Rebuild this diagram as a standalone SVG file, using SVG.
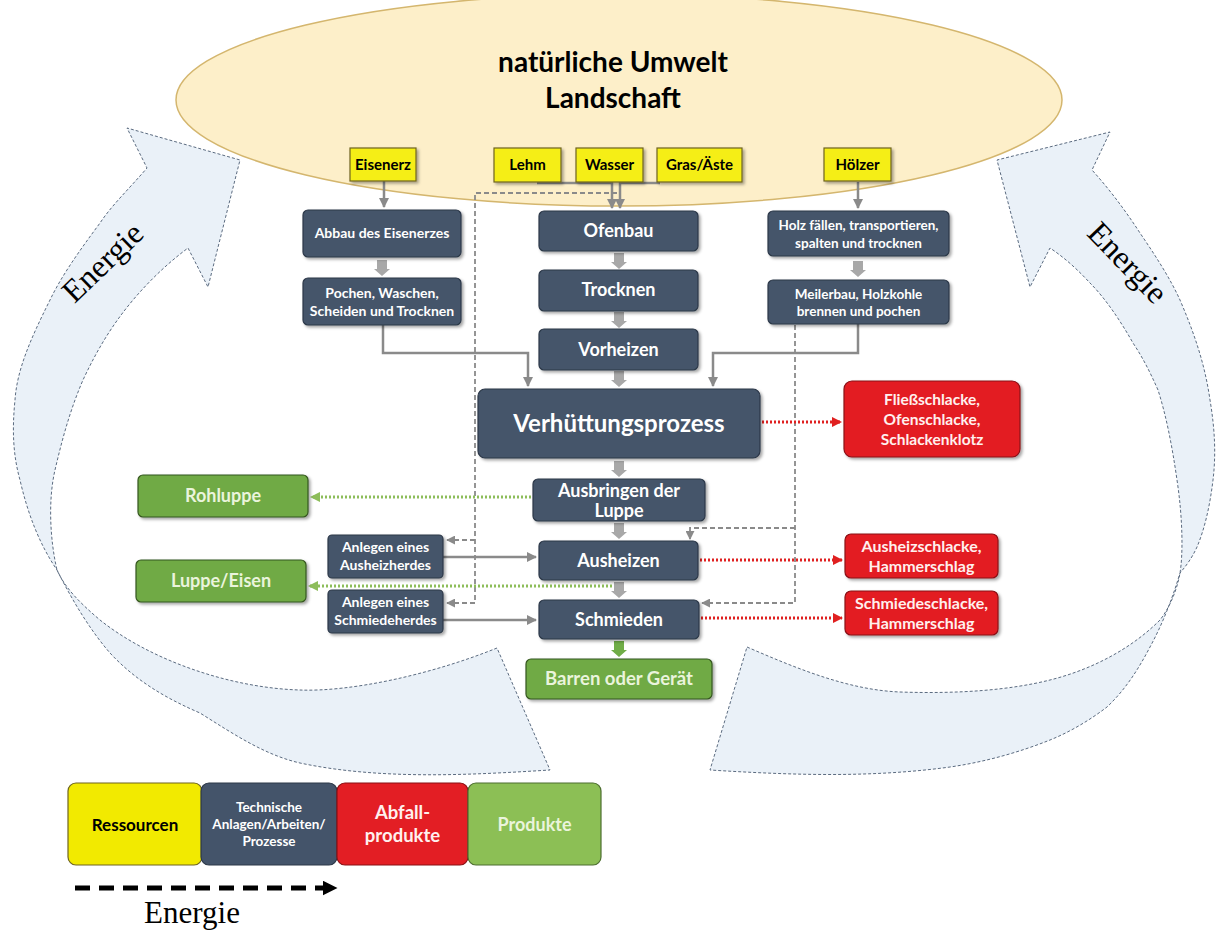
<svg xmlns="http://www.w3.org/2000/svg" width="1220" height="930" viewBox="0 0 1220 930">
<defs>
<style>
.t{font-family:Lato,"Open Sans","Liberation Sans",sans-serif;font-weight:bold;text-anchor:middle}
.w{fill:#ffffff}
.k{fill:#000000}
.pg{fill:#eaf4dc}
.pr{fill:#fff0ee}
.dark{fill:#44546a;stroke:#2c3848;stroke-width:1.2}
.yel{fill:#f5ee12;stroke:#6e6420;stroke-width:1.2}
.red{fill:#e31e24;stroke:#8a1015;stroke-width:1.2}
.grn{fill:#6faa45;stroke:#35561f;stroke-width:1.2}
.en{fill:#eaf1f8;stroke:#5b6b80;stroke-width:1;stroke-dasharray:3 2}
.ensans{font-family:"Liberation Serif","DejaVu Serif",serif;font-size:32px;fill:#000;text-anchor:middle}
.solid{fill:none;stroke:#8a8a8a;stroke-width:2.5}
.dash{fill:none;stroke:#8a8a8a;stroke-width:1.8;stroke-dasharray:5 3}
.rdot{fill:none;stroke:#e02020;stroke-width:3;stroke-dasharray:2 2}
.gdot{fill:none;stroke:#8dbd5a;stroke-width:3;stroke-dasharray:2 2}
.blk{fill:#a8a8a8}
</style>
<filter id="sh" x="-10%" y="-10%" width="130%" height="140%">
<feDropShadow dx="2" dy="2" stdDeviation="1.5" flood-color="#000" flood-opacity="0.35"/>
</filter>
<marker id="ag" viewBox="0 0 10 10" refX="9" refY="5" markerWidth="4" markerHeight="4" orient="auto"><path d="M0,0 L10,5 L0,10 Z" fill="#8a8a8a"/></marker>
<marker id="agd" viewBox="0 0 10 10" refX="9" refY="5" markerWidth="5" markerHeight="5" orient="auto"><path d="M0,0 L10,5 L0,10 Z" fill="#8a8a8a"/></marker>
<marker id="ar" viewBox="0 0 10 10" refX="9" refY="5" markerWidth="3.5" markerHeight="3.5" orient="auto"><path d="M0,0 L10,5 L0,10 Z" fill="#e02020"/></marker>
<marker id="agr" viewBox="0 0 10 10" refX="9" refY="5" markerWidth="3.5" markerHeight="3.5" orient="auto"><path d="M0,0 L10,5 L0,10 Z" fill="#8dbd5a"/></marker>
<marker id="ak" viewBox="0 0 10 10" refX="9" refY="5" markerWidth="3" markerHeight="3" orient="auto"><path d="M0,0 L10,5 L0,10 Z" fill="#000"/></marker>
<path id="ba" d="M-5,0 H5 V9 H8 L0,16 L-8,9 H-5 Z"/>
</defs>
<rect width="1220" height="930" fill="#ffffff"/>

<g id="energie-links">
<path class="en" d="M497,648 C430,675 350,692 300,690 C230,688 150,660 100,620 C80,603 65,588 57,570 C50,540 48,500 55,470 C62,440 70,410 83,380 C97,350 112,325 133,300 C150,280 168,263 188,248 L208,287 L240,160 L127,128 L147,168 C128,190 112,205 100,223 C80,250 62,275 50,300 C30,340 17,370 15,400 C12,430 13,455 20,480 C28,515 40,545 57,570 C72,600 90,630 110,653 C135,680 165,698 200,713 C235,735 265,755 300,763 C380,780 470,775 550,770 Z"/>
<text class="ensans" transform="translate(110,270) rotate(-44)">Energie</text>
</g>
<g id="energie-rechts">
<path class="en" d="M747,647 C800,670 850,690 900,692 C960,694 1010,690 1050,680 C1090,670 1130,650 1160,620 C1170,607 1177,590 1180,573 C1183,555 1183,520 1177,480 C1172,445 1166,415 1158,390 C1150,372 1143,358 1133,343 C1120,320 1105,298 1090,283 C1078,270 1065,258 1050,248 L1030,287 L997,160 L1110,132 L1092,170 C1110,190 1125,210 1140,233 C1155,255 1170,278 1180,300 C1195,335 1205,365 1210,400 C1215,430 1216,455 1213,480 C1210,505 1205,528 1197,547 C1192,558 1186,566 1180,573 C1172,600 1162,625 1150,647 C1138,670 1125,690 1107,707 C1090,720 1070,732 1050,740 C1020,752 985,762 950,767 C870,778 790,775 710,770 Z"/>
<text class="ensans" transform="translate(1120,270) rotate(46)">Energie</text>
</g>

<g id="umwelt">
<ellipse cx="619" cy="100" rx="443" ry="106" fill="#fdefc9" stroke="#d4b66e" stroke-width="1.5"/>
<text class="t k" x="613" y="72" font-size="28">natürliche Umwelt</text>
<text class="t k" x="613" y="108" font-size="28">Landschaft</text>
</g>

<g id="connectors">
<path class="solid" d="M384,181 V207" marker-end="url(#ag)"/>
<path class="solid" d="M858,182 V208" marker-end="url(#ag)"/>
<path class="solid" d="M537,183 H612 V208" marker-end="url(#ag)"/>
<path class="solid" d="M660,183 H620 V208" marker-end="url(#ag)"/>
<path class="solid" d="M383,325 V353 H528 V386" marker-end="url(#ag)"/>
<path class="solid" d="M858,324 V353 H713 V386" marker-end="url(#ag)"/>
<path class="solid" d="M443,557 H536" marker-end="url(#ag)"/>
<path class="solid" d="M443,620 H536" marker-end="url(#ag)"/>
<path class="dash" d="M617,193 H475 V603 H447" marker-end="url(#agd)"/>
<path class="dash" d="M475,540 H447" marker-end="url(#agd)"/>
<path class="dash" d="M795,325 V603 H702" marker-end="url(#agd)"/>
<path class="dash" d="M795,528 H690 V539" marker-end="url(#agd)"/>
<path class="rdot" d="M762,422 H841" marker-end="url(#ar)"/>
<path class="rdot" d="M700,560 H842" marker-end="url(#ar)"/>
<path class="rdot" d="M701,618 H842" marker-end="url(#ar)"/>
<path class="gdot" d="M531,497 H311" marker-end="url(#agr)"/>
<path class="gdot" d="M612,586 H309" marker-end="url(#agr)"/>
<use href="#ba" class="blk" x="619" y="253"/>
<use href="#ba" class="blk" x="619" y="312"/>
<use href="#ba" class="blk" x="619" y="371"/>
<use href="#ba" class="blk" x="619" y="461"/>
<use href="#ba" class="blk" x="619" y="523"/>
<use href="#ba" class="blk" x="619" y="582"/>
<use href="#ba" fill="#70ad47" x="619" y="641"/>
<use href="#ba" class="blk" x="382" y="260"/>
<use href="#ba" class="blk" x="858" y="261"/>
</g>

<g id="eisenerz"><rect class="yel" x="350" y="148" width="66" height="33" filter="url(#sh)"/><text class="t k" x="383" y="170" font-size="15">Eisenerz</text></g>
<g id="lehm"><rect class="yel" x="494" y="148" width="67" height="34" filter="url(#sh)"/><text class="t k" x="527.5" y="170" font-size="15">Lehm</text></g>
<g id="wasser"><rect class="yel" x="576" y="148" width="67" height="34" filter="url(#sh)"/><text class="t k" x="609.5" y="170" font-size="15">Wasser</text></g>
<g id="gras"><rect class="yel" x="657" y="148" width="85" height="34" filter="url(#sh)"/><text class="t k" x="699.5" y="170" font-size="15">Gras/Äste</text></g>
<g id="hoelzer"><rect class="yel" x="824" y="148" width="67" height="33" filter="url(#sh)"/><text class="t k" x="857.5" y="170" font-size="15">Hölzer</text></g>

<g id="abbau"><rect class="dark" x="303" y="210" width="158" height="47" rx="5" filter="url(#sh)"/><text class="t w" x="382" y="238" font-size="14">Abbau des Eisenerzes</text></g>
<g id="pochen"><rect class="dark" x="303" y="278" width="158" height="47" rx="5" filter="url(#sh)"/><text class="t w" x="382" y="298" font-size="14">Pochen, Waschen,</text><text class="t w" x="382" y="316" font-size="14">Scheiden und Trocknen</text></g>
<g id="ofenbau"><rect class="dark" x="539" y="211" width="159" height="40" rx="5" filter="url(#sh)"/><text class="t w" x="618.5" y="237" font-size="18">Ofenbau</text></g>
<g id="trocknen"><rect class="dark" x="539" y="270" width="159" height="41" rx="5" filter="url(#sh)"/><text class="t w" x="618.5" y="296" font-size="18">Trocknen</text></g>
<g id="vorheizen"><rect class="dark" x="539" y="329" width="159" height="41" rx="5" filter="url(#sh)"/><text class="t w" x="618.5" y="356" font-size="18">Vorheizen</text></g>
<g id="holz"><rect class="dark" x="768" y="211" width="181" height="45" rx="5" filter="url(#sh)"/><text class="t w" x="858.5" y="230" font-size="13.5">Holz fällen, transportieren,</text><text class="t w" x="858.5" y="248" font-size="13.5">spalten und trocknen</text></g>
<g id="meilerbau"><rect class="dark" x="768" y="280" width="181" height="44" rx="5" filter="url(#sh)"/><text class="t w" x="858.5" y="299" font-size="13.5">Meilerbau, Holzkohle</text><text class="t w" x="858.5" y="316" font-size="13.5">brennen und pochen</text></g>
<g id="verhuettung"><rect class="dark" x="478" y="389" width="282" height="69" rx="7" filter="url(#sh)"/><text class="t w" x="619" y="432" font-size="24">Verhüttungsprozess</text></g>
<g id="ausbringen"><rect class="dark" x="533" y="479" width="172" height="42" rx="5" filter="url(#sh)"/><text class="t w" x="619" y="497" font-size="18">Ausbringen der</text><text class="t w" x="619" y="517" font-size="18">Luppe</text></g>
<g id="ausheizen"><rect class="dark" x="539" y="541" width="159" height="39" rx="5" filter="url(#sh)"/><text class="t w" x="618.5" y="567" font-size="18">Ausheizen</text></g>
<g id="schmieden"><rect class="dark" x="539" y="600" width="160" height="39" rx="5" filter="url(#sh)"/><text class="t w" x="619" y="626" font-size="18">Schmieden</text></g>
<g id="anlegen-ausheiz"><rect class="dark" x="328" y="535" width="115" height="43" rx="4" filter="url(#sh)"/><text class="t w" x="385.5" y="552" font-size="14">Anlegen eines</text><text class="t w" x="385.5" y="570" font-size="14">Ausheizherdes</text></g>
<g id="anlegen-schmiede"><rect class="dark" x="328" y="590" width="115" height="43" rx="4" filter="url(#sh)"/><text class="t w" x="385.5" y="607" font-size="14">Anlegen eines</text><text class="t w" x="385.5" y="625" font-size="14">Schmiedeherdes</text></g>

<g id="barren"><rect class="grn" x="526" y="659" width="186" height="40" rx="5" filter="url(#sh)"/><text class="t pg" x="619" y="685" font-size="18.5">Barren oder Gerät</text></g>
<g id="rohluppe"><rect class="grn" x="138" y="475" width="170" height="42" rx="5" filter="url(#sh)"/><text class="t pg" x="223" y="502" font-size="18">Rohluppe</text></g>
<g id="luppe-eisen"><rect class="grn" x="136" y="560" width="170" height="42" rx="5" filter="url(#sh)"/><text class="t pg" x="221" y="587" font-size="18">Luppe/Eisen</text></g>

<g id="fliessschlacke"><rect class="red" x="844" y="381" width="176" height="76" rx="8" filter="url(#sh)"/><text class="t pr" x="932" y="405" font-size="15.5">Fließschlacke,</text><text class="t pr" x="932" y="425" font-size="15.5">Ofenschlacke,</text><text class="t pr" x="932" y="445" font-size="15.5">Schlackenklotz</text></g>
<g id="ausheizschlacke"><rect class="red" x="845" y="534" width="153" height="44" rx="6" filter="url(#sh)"/><text class="t pr" x="921.5" y="552" font-size="16">Ausheizschlacke,</text><text class="t pr" x="921.5" y="572" font-size="16">Hammerschlag</text></g>
<g id="schmiedeschlacke"><rect class="red" x="845" y="591" width="153" height="44" rx="6" filter="url(#sh)"/><text class="t pr" x="921.5" y="609" font-size="16">Schmiedeschlacke,</text><text class="t pr" x="921.5" y="629" font-size="16">Hammerschlag</text></g>

<g id="legende">
<rect x="68" y="783" width="134" height="82" rx="8" fill="#f2ea00" stroke="#6e6420" stroke-width="1.2"/>
<rect x="201" y="783" width="136" height="82" rx="8" fill="#44546a" stroke="#2c3848" stroke-width="1.2"/>
<rect x="337" y="783" width="131" height="82" rx="8" fill="#e31e24" stroke="#8a1015" stroke-width="1.2"/>
<rect x="468" y="783" width="133" height="82" rx="8" fill="#8cbf55" stroke="#4d6e30" stroke-width="1.2"/>
<text class="t k" x="135" y="831" font-size="17">Ressourcen</text>
<text class="t w" x="269" y="812" font-size="13.5">Technische</text>
<text class="t w" x="269" y="829" font-size="13.5">Anlagen/Arbeiten/</text>
<text class="t w" x="269" y="846" font-size="13.5">Prozesse</text>
<text class="t pr" x="402.5" y="819" font-size="18.5">Abfall-</text>
<text class="t pr" x="402.5" y="842" font-size="18.5">produkte</text>
<text class="t pg" x="534.5" y="831" font-size="18">Produkte</text>
<path d="M75,888 H336" fill="none" stroke="#000" stroke-width="5" stroke-dasharray="15 9" marker-end="url(#ak)"/>
<text x="192" y="923" font-family="'Liberation Serif','DejaVu Serif',serif" font-size="31" text-anchor="middle" fill="#000">Energie</text>
</g>
</svg>
